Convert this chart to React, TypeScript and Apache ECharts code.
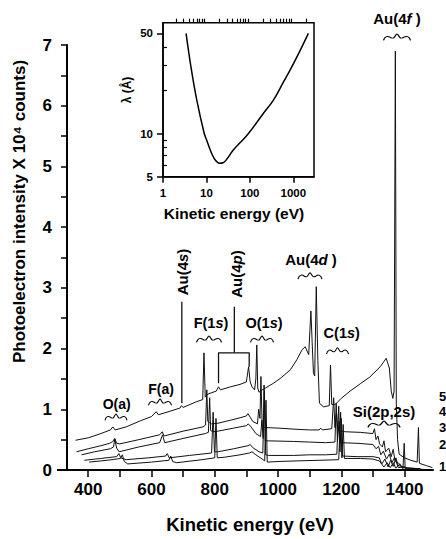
import React, { useEffect, useRef } from "react";
import * as echarts from "echarts";

// ---------- data ----------
const xTickValues = [400, 500, 600, 700, 800, 900, 1000, 1100, 1200, 1300, 1400];
const xLabelValues = [400, 600, 800, 1000, 1200, 1400];
const yTickValues = [0, 0.5, 1, 1.5, 2, 2.5, 3, 3.5, 4, 4.5, 5, 5.5, 6, 6.5, 7];
const yLabelValues = [0, 1, 2, 3, 4, 5, 6, 7];

// spectrum 5 (top)
const curve5: number[][] = [
  [360, 0.49], [400, 0.53], [440, 0.6], [470, 0.66], [478, 0.71], [485, 0.66], [520, 0.71], [565, 0.81],
  [600, 0.88], [615, 0.96], [622, 0.91], [660, 0.97], [690, 1.02], [695, 1.06], [700, 1.03], [740, 1.12],
  [762, 1.16], [766, 1.93], [770, 1.2], [778, 1.25], [805, 1.3], [812, 1.37], [818, 1.32], [850, 1.37],
  [880, 1.41], [900, 1.45], [907, 1.7], [912, 1.45], [918, 1.37], [926, 1.32], [930, 1.5], [933, 2.06],
  [936, 1.35], [940, 1.28], [944, 1.3], [960, 1.35], [986, 1.43], [1010, 1.52], [1039, 1.65], [1060, 1.82],
  [1076, 1.98], [1086, 2.03], [1097, 1.9], [1104, 2.62], [1108, 2.1], [1112, 1.6], [1116, 1.55], [1121, 3.02],
  [1126, 1.8], [1131, 1.1], [1144, 1.04], [1162, 1.06], [1166, 1.73], [1170, 1.08], [1181, 1.08], [1200, 1.18],
  [1228, 1.3], [1260, 1.42], [1290, 1.53], [1323, 1.7], [1342, 1.84], [1352, 1.68], [1358, 1.3], [1363, 1.18],
  [1367, 1.3], [1371, 6.9], [1374, 1.1], [1378, 0.5], [1383, 0.26], [1400, 0.2], [1420, 0.16], [1440, 0.13],
  [1444, 0.7], [1447, 0.11], [1470, 0.07], [1488, 0.04],
];
// spectrum 4
const curve4: number[][] = [
  [363, 0.3], [400, 0.35], [440, 0.4], [468, 0.44], [478, 0.47], [484, 0.52], [490, 0.44], [500, 0.43],
  [560, 0.5], [626, 0.58], [634, 0.63], [640, 0.56], [700, 0.64], [763, 0.71], [771, 0.74], [775, 1.32],
  [778, 0.8], [784, 0.78], [790, 0.76], [810, 0.77], [850, 0.82], [880, 0.86], [900, 0.89], [905, 0.93],
  [912, 0.87], [920, 0.8], [935, 0.76], [939, 1.0], [943, 0.85], [946, 1.54], [950, 0.72], [958, 0.7],
  [1000, 0.69], [1060, 0.67], [1100, 0.66], [1130, 0.66], [1135, 0.69], [1140, 0.66], [1170, 0.68],
  [1176, 1.19], [1180, 0.7], [1185, 0.95], [1189, 0.65], [1213, 0.63], [1260, 0.62], [1300, 0.6],
  [1305, 0.68], [1310, 0.5], [1316, 0.56], [1321, 0.43], [1330, 0.38], [1335, 0.48], [1340, 0.3],
  [1350, 0.36], [1358, 0.22], [1364, 0.34], [1370, 0.15], [1380, 0.12], [1390, 0.06], [1410, 0.03],
  [1450, 0.02],
];
// spectrum 3
const curve3: number[][] = [
  [379, 0.25], [420, 0.3], [470, 0.35], [480, 0.38], [484, 0.51], [490, 0.36], [498, 0.3], [560, 0.38],
  [626, 0.45], [635, 0.58], [642, 0.45], [700, 0.52], [770, 0.6], [780, 0.62], [784, 1.19], [787, 0.65],
  [795, 0.63], [810, 0.64], [860, 0.69], [900, 0.73], [906, 0.76], [915, 0.71], [930, 0.6], [945, 0.55],
  [949, 0.82], [953, 0.52], [956, 1.4], [960, 0.48], [970, 0.48], [1050, 0.47], [1100, 0.46], [1150, 0.45],
  [1180, 0.46], [1184, 1.1], [1188, 0.47], [1193, 0.8], [1198, 0.45], [1250, 0.44], [1300, 0.42],
  [1310, 0.35], [1318, 0.39], [1325, 0.25], [1333, 0.31], [1343, 0.18], [1352, 0.26], [1360, 0.12],
  [1368, 0.2], [1378, 0.08], [1400, 0.04], [1450, 0.02],
];
// spectrum 2
const curve2: number[][] = [
  [388, 0.16], [440, 0.19], [490, 0.22], [497, 0.27], [503, 0.2], [520, 0.17], [590, 0.2], [645, 0.23],
  [650, 0.27], [656, 0.2], [720, 0.24], [790, 0.28], [795, 0.95], [799, 0.3], [810, 0.3], [860, 0.35],
  [905, 0.4], [912, 0.42], [920, 0.37], [940, 0.3], [952, 0.28], [957, 1.3], [961, 0.25], [970, 0.24],
  [1050, 0.24], [1100, 0.25], [1150, 0.25], [1186, 0.26], [1192, 1.05], [1196, 0.3], [1200, 0.85],
  [1204, 0.23], [1250, 0.22], [1300, 0.22], [1320, 0.2], [1328, 0.1], [1338, 0.18], [1348, 0.05],
  [1356, 0.16], [1364, 0.06], [1373, 0.2], [1380, 0.04], [1400, 0.05], [1410, 0.02], [1460, 0.01],
];
// spectrum 1 (bottom)
const curve1: number[][] = [
  [403, 0.13], [460, 0.16], [502, 0.19], [508, 0.25], [514, 0.14], [525, 0.1], [600, 0.13], [655, 0.16],
  [661, 0.23], [667, 0.14], [680, 0.12], [760, 0.17], [800, 0.2], [804, 0.85], [808, 0.2], [830, 0.21],
  [880, 0.25], [910, 0.28], [918, 0.3], [930, 0.25], [950, 0.18], [958, 0.15], [962, 1.15], [966, 0.13],
  [1000, 0.14], [1060, 0.15], [1130, 0.16], [1192, 0.17], [1198, 0.95], [1202, 0.2], [1206, 0.75],
  [1210, 0.19], [1260, 0.19], [1300, 0.18], [1320, 0.15], [1335, 0.05], [1345, 0.12], [1355, 0.04],
  [1365, 0.12], [1372, 0.03], [1385, 0.1], [1395, 0.02], [1399, 0.44], [1402, 0.02], [1440, 0.01],
];

// annotation brackets (kinetic energy, intensity)
const au4sStem: number[][] = [[696, 1.1], [696, 2.77]];
const au4pStem: number[][] = [[862, 1.93], [862, 2.69]];
const au4pBracket: number[][] = [[812, 1.43], [812, 1.93], [909, 1.93], [909, 1.7]];

// inset: inelastic mean free path vs kinetic energy
const insetEnergy = [3.4, 4.4, 6.0, 8.9, 10, 12.2, 15, 17, 20, 24, 28, 42, 60, 93, 200, 349, 600, 924, 1500, 2225];
const insetLambda = [50, 29.2, 17.1, 10.0, 9.1, 7.7, 6.7, 6.4, 6.2, 6.25, 6.5, 7.7, 8.65, 10, 13.7, 17.1, 23, 29.2, 39, 50];
const insetXRange = [1, 3000];
const insetYRange = [5, 59.3];
const insetXMajor = [1, 10, 100, 1000];
const insetXMinor = [2, 3, 4, 5, 6, 7, 8, 9, 20, 30, 40, 50, 60, 70, 80, 90, 200, 300, 400, 500, 600, 700, 800, 900, 2000];
const insetYMajor = [5, 10, 50];
const insetYMinor = [6, 7, 8, 9, 20, 30, 40];

const curveTags = ["5", "4", "3", "2", "1"];

// ---------- drawing ----------
const FONT = "'Liberation Sans', Arial, Helvetica, sans-serif";
const WIGGLE_D =
  "M0,8 C1,3 4,2 6,4 C7,5 9,6 10,4 C11,2 12,0 12.5,0 C13,0 14,2 15,4 C16,6 18,5 19,4 C21,2 24,3 25,8";
let registered = false;
function ensureShape() {
  if (registered) return;
  echarts.graphic.registerShape("wiggle", echarts.graphic.extendPath(WIGGLE_D, {}) as any);
  registered = true;
}

const lg = (v: number) => Math.log10(v);

function label(text: string, x: number, y: number, size = 14, rotation = 0) {
  return {
    type: "text",
    x,
    y,
    rotation,
    style: {
      text,
      fill: "#000",
      fontSize: size,
      fontWeight: "bold",
      fontFamily: FONT,
      align: "center",
      verticalAlign: "middle",
      rich: {
        i: { fontStyle: "italic", fontWeight: "bold", fontSize: size, fontFamily: FONT, fill: "#000" },
        n: { fontWeight: "bold", fontSize: size, fontFamily: FONT, fill: "#000" },
      },
    },
  };
}

function wiggle(cx: number, top: number, width = 24) {
  const s = width / 25;
  return {
    type: "wiggle",
    x: cx - 12.5 * s,
    y: top,
    scaleX: s,
    scaleY: 0.8,
    style: { stroke: "#000", fill: null, lineWidth: 1.2 },
  };
}

export default function App() {
  const ref = useRef<HTMLDivElement>(null);
  useEffect(() => {
    if (!ref.current) return;
    ensureShape();
    const chart = echarts.init(ref.current, undefined, { renderer: "svg" });

    const lineSeries = (data: number[][], w = 1) => ({
      type: "line",
      xAxisIndex: 0,
      yAxisIndex: 0,
      data,
      showSymbol: false,
      symbol: "none",
      lineStyle: { color: "#111", width: w },
      silent: true,
    });

    const tickStyle = { color: "#000", width: 1.5 };
    const labelStyle = { color: "#000", fontFamily: FONT, fontWeight: "bold" };
    const plain = (v: number) => String(v);

    const option: any = {
      animation: false,
      backgroundColor: "#fff",
      textStyle: { fontFamily: FONT },
      grid: [
        { left: 67, top: 45, width: 366, height: 425, outerBoundsMode: "none" },
        {
          left: 163,
          top: 22.7,
          width: 151,
          height: 154,
          show: true,
          borderColor: "#000",
          borderWidth: 1.5,
          backgroundColor: "#fff",
          outerBoundsMode: "none",
        },
      ],
      xAxis: [
        {
          gridIndex: 0,
          type: "value",
          min: 333,
          max: 1490,
          splitLine: { show: false },
          axisLine: { lineStyle: { color: "#000", width: 2 } },
          axisTick: { customValues: xTickValues, length: 7, lineStyle: tickStyle },
          axisLabel: { ...labelStyle, customValues: xLabelValues, fontSize: 17, margin: 11, formatter: plain },
          name: "Kinetic energy (eV)",
          nameLocation: "middle",
          nameGap: 45,
          nameTextStyle: { color: "#000", fontFamily: FONT, fontWeight: "bold", fontSize: 18.5 },
        },
        {
          gridIndex: 1,
          type: "value",
          min: lg(insetXRange[0]),
          max: lg(insetXRange[1]),
          splitLine: { show: false },
          axisLine: { lineStyle: { color: "#000", width: 1.5 } },
          axisTick: { customValues: insetXMajor.map(lg), length: 6, lineStyle: tickStyle },
          axisLabel: {
            ...labelStyle,
            customValues: insetXMajor.map(lg),
            fontSize: 11.5,
            margin: 10,
            formatter: (v: number) => String(Math.round(Math.pow(10, v))),
          },
        },
        {
          gridIndex: 1,
          type: "value",
          min: lg(insetXRange[0]),
          max: lg(insetXRange[1]),
          splitLine: { show: false },
          axisLine: { show: false },
          axisTick: { customValues: insetXMinor.map(lg), length: 4, lineStyle: { color: "#000", width: 1.2 } },
          axisLabel: { show: false },
        },
      ],
      yAxis: [
        {
          gridIndex: 0,
          type: "value",
          min: 0,
          max: 7,
          splitLine: { show: false },
          axisLine: { show: true, lineStyle: { color: "#000", width: 2 } },
          axisTick: { show: true, customValues: yTickValues, length: 6, lineStyle: tickStyle },
          axisLabel: { ...labelStyle, customValues: yLabelValues, fontSize: 17, margin: 15, formatter: plain },
        },
        {
          gridIndex: 1,
          type: "value",
          min: lg(insetYRange[0]),
          max: lg(insetYRange[1]),
          splitLine: { show: false },
          axisLine: { show: true, lineStyle: { color: "#000", width: 1.5 } },
          axisTick: { show: true, customValues: insetYMajor.map(lg), length: 6, lineStyle: tickStyle },
          axisLabel: {
            ...labelStyle,
            customValues: insetYMajor.map(lg),
            fontSize: 11.5,
            margin: 10,
            formatter: (v: number) => String(Math.round(Math.pow(10, v))),
          },
        },
        {
          gridIndex: 1,
          type: "value",
          min: lg(insetYRange[0]),
          max: lg(insetYRange[1]),
          splitLine: { show: false },
          axisLine: { show: false },
          axisTick: { show: true, customValues: insetYMinor.map(lg), length: 4, lineStyle: { color: "#000", width: 1.2 } },
          axisLabel: { show: false },
        },
      ],
      series: [
        lineSeries(curve1),
        lineSeries(curve2),
        lineSeries(curve3),
        lineSeries(curve4),
        lineSeries(curve5),
        lineSeries(au4sStem, 1.3),
        lineSeries(au4pStem, 1.3),
        lineSeries(au4pBracket, 1.3),
        {
          type: "line",
          xAxisIndex: 1,
          yAxisIndex: 1,
          data: insetEnergy.map((e, i) => [lg(e), lg(insetLambda[i])]),
          showSymbol: false,
          symbol: "none",
          smooth: 0.4,
          lineStyle: { color: "#000", width: 1.5 },
          silent: true,
        },
      ],
      graphic: [
        // stub of x axis to the left of the y axis
        { type: "line", shape: { x1: 57, y1: 470, x2: 67, y2: 470 }, style: { stroke: "#000", lineWidth: 2 } },
        {
          type: "text",
          x: 19.5,
          y: 211.5,
          rotation: Math.PI / 2,
          style: {
            text: "Photoelectron intensity X 10⁴ counts)",
            fill: "#000",
            fontSize: 17,
            fontWeight: "bold",
            fontFamily: FONT,
            align: "center",
            verticalAlign: "middle",
          },
        },
        {
          type: "text",
          x: 127,
          y: 90,
          rotation: Math.PI / 2,
          style: {
            text: "λ (Å)",
            fill: "#000",
            fontSize: 12,
            fontWeight: "bold",
            fontFamily: FONT,
            align: "center",
            verticalAlign: "middle",
          },
        },
        {
          type: "text",
          x: 234,
          y: 213,
          style: {
            text: "Kinetic energy (eV)",
            fill: "#000",
            fontSize: 15.5,
            fontWeight: "bold",
            fontFamily: FONT,
            align: "center",
            verticalAlign: "middle",
          },
        },
        label("O(a)", 116.7, 403.5, 14),
        wiggle(116, 414, 22),
        label("F(a)", 161, 388.5, 14),
        wiggle(160, 399, 23),
        label("F(1{i|s})", 211, 322.5, 14.5),
        wiggle(209, 336, 25),
        label("O(1{i|s})", 264, 323.3, 14.5),
        wiggle(262, 336, 23),
        label("C(1{i|s})", 341.7, 333, 14.5),
        wiggle(337.5, 347.7, 22),
        label("Au(4{i|d}{n| )}", 311, 259, 15),
        wiggle(310, 272.7, 24),
        label("Au(4{i|f}{n| )}", 397, 18.7, 15),
        wiggle(397, 34, 27),
        label("Si(2p,2s)", 384, 411, 15),
        wiggle(384, 421, 32),
        label("Au(4{i|s})", 182, 272, 15, Math.PI / 2),
        label("Au(4{i|p})", 236, 274, 15, Math.PI / 2),
        ...curveTags.map((t, i) => ({
          type: "text",
          x: 439,
          y: [396, 411, 427, 444, 466][i],
          style: {
            text: t,
            fill: "#000",
            fontSize: 13,
            fontWeight: "bold",
            fontFamily: FONT,
            align: "left",
            verticalAlign: "middle",
          },
        })),
      ],
    };
    chart.setOption(option);
    return () => chart.dispose();
  }, []);

  return (
    <div
      ref={ref}
      style={{ position: "fixed", left: 0, top: 0, width: 446, height: 539, background: "#fff" }}
    />
  );
}
